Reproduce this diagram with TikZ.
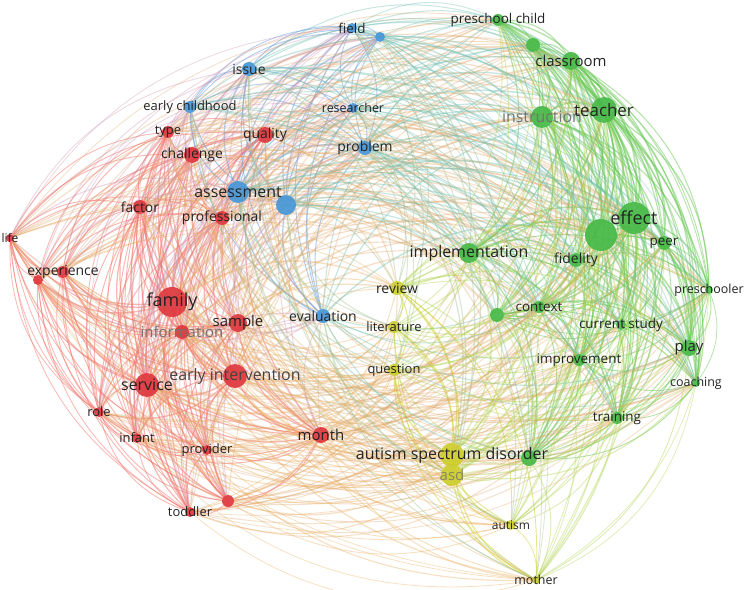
\documentclass[tikz,border=0pt]{standalone}
\usepackage{fontspec}
\setmainfont{Open Sans}
\pgfdeclarelayer{bg}
\pgfdeclarelayer{edges}
\pgfsetlayers{bg,edges,main}
\definecolor{nR}{RGB}{222,55,60}
\definecolor{nG}{RGB}{70,185,70}
\definecolor{nB}{RGB}{70,150,215}
\definecolor{nY}{RGB}{205,205,45}
\definecolor{eR}{RGB}{245,115,105}
\definecolor{eG}{RGB}{105,200,85}
\definecolor{eB}{RGB}{100,160,222}
\definecolor{eY}{RGB}{212,212,60}
\definecolor{eRG}{RGB}{225,165,100}
\definecolor{eRB}{RGB}{205,145,175}
\definecolor{eRY}{RGB}{235,170,85}
\definecolor{eBG}{RGB}{110,190,175}
\definecolor{eBY}{RGB}{160,190,140}
\definecolor{eGY}{RGB}{175,210,75}
\definecolor{txt}{RGB}{35,35,35}
\definecolor{dim}{RGB}{115,115,115}
\tikzset{
  edgeR/.style={eR,opacity=0.5},
  edgeG/.style={eG,opacity=0.5},
  edgeB/.style={eB,opacity=0.5},
  edgeY/.style={eY,opacity=0.55},
  edgeRG/.style={eRG,opacity=0.34},
  edgeRB/.style={eRB,opacity=0.36},
  edgeRY/.style={eRY,opacity=0.36},
  edgeBG/.style={eBG,opacity=0.38},
  edgeBY/.style={eBY,opacity=0.38},
  edgeGY/.style={eGY,opacity=0.4},
  dotnode/.style={circle,inner sep=0pt,outer sep=0pt,opacity=0.92},
  lbl/.style={inner sep=0pt,text=txt}
}
\def\Rlist{life/10/238/4, experience/63/272/6, expB/38/280/5, factor/140/207/7, type/168/132/6, challenge/192/155/8, quality/265/135/8, professional/222/218/7, family/172/302/15, information/182/332/7, sample/238/323/9, earlyint/235/376/12, service/147/385/12, role/99/412/5, infant/137/438/5, provider/207/450/5, toddler/190/512/5, toddlers/228/501/6, month/321/435/8}
\def\Blist{field/352/28/5, fieldB/380/37/5, issue/249/69/7, earlych/190/107/6, researcher/353/108/5, problem/365/148/7, assessment/238/192/11, blueB/286/205/10, evaluation/323/316/7}
\def\Ylist{review/397/288/7, literature/394/327/6, question/394/370/6, asdis/452/455/12, asd/452/475/11, autism/511/525/5, mother/536/580/4}
\def\Glist{preschoolchild/498/20/6, greenS/533/45/7, classroom/571/61/9, instruction/542/117/11, teacher/604/110/13, effect/634/218/16, greenB/601/235/16, peer/664/243/7, fidelity/576/260/7, implementation/469/253/10, preschooler/709/290/4, greenM/497/315/7, context/539/307/6, currentstudy/621/325/5, play/689/348/8, improvement/579/360/6, coaching/696/383/4, training/617/418/6, greenD/529/458/8}
% #1 list a, #2 list b, #3 style, #4 mode: 0 intra, 1 sampled inter
\newcommand\edgeset[4]{%
\foreach \a/\ax/\ay/\ar [count=\i] in #1 {%
  \foreach \b/\bx/\by/\br [count=\j] in #2 {%
    \pgfmathtruncatemacro\keep{#4==0 ? (\i<\j ? 1 : 0) : (mod(\i*7+\j*5,2)==0 ? 1 : 0)}%
    \ifnum\keep=1
      \pgfmathsetmacro\crs{((\ax-380)/100)*((\by-300)/100)-((\ay-300)/100)*((\bx-380)/100)}%
      \pgfmathsetmacro\lw{0.35+(\ar+\br)/20}%
      \ifdim\crs pt>0pt
        \draw[#3,line width=\lw bp] (\a) to[bend left=28] (\b);
      \else
        \draw[#3,line width=\lw bp] (\a) to[bend right=28] (\b);
      \fi
    \fi
  }%
}}
\newcommand\mknodes[2]{%
\foreach \n/\x/\y/\r in #1 {%
  \pgfmathsetmacro\dd{2*\r}%
  \node[dotnode,fill=#2,minimum size=\dd bp] (\n) at (\x,\y) {};
}}
\newcommand\lab[4]{\node[lbl,font=\fontsize{#2}{#2}\selectfont,text=#3] (#1-t) at (#1) {#4};}
\begin{document}
\begin{tikzpicture}[x=1bp,y=-1bp]
\begin{pgfonlayer}{bg}
\fill[white] (0,0) rectangle (748,590);
\end{pgfonlayer}
\useasboundingbox (0,0) rectangle (748,590);
\mknodes{\Rlist}{nR}
\mknodes{\Blist}{nB}
\mknodes{\Ylist}{nY}
\mknodes{\Glist}{nG}
\begin{pgfonlayer}{edges}
\edgeset{\Rlist}{\Rlist}{edgeR}{0}
\edgeset{\Glist}{\Glist}{edgeG}{0}
\edgeset{\Blist}{\Blist}{edgeB}{0}
\edgeset{\Ylist}{\Ylist}{edgeY}{0}
\edgeset{\Rlist}{\Blist}{edgeRB}{1}
\edgeset{\Rlist}{\Glist}{edgeRG}{1}
\edgeset{\Rlist}{\Ylist}{edgeRY}{1}
\edgeset{\Blist}{\Glist}{edgeBG}{1}
\edgeset{\Blist}{\Ylist}{edgeBY}{1}
\edgeset{\Glist}{\Ylist}{edgeGY}{1}
\end{pgfonlayer}
% labels
\lab{life}{12}{txt}{life}
\lab{experience}{14}{txt}{experience}
\lab{factor}{14}{txt}{factor}
\lab{type}{13}{txt}{type}
\lab{challenge}{14}{txt}{challenge}
\lab{quality}{14}{txt}{quality}
\lab{professional}{14}{txt}{professional}
\lab{family}{18}{txt}{family}
\lab{information}{15}{dim}{information}
\lab{sample}{15}{txt}{sample}
\lab{earlyint}{16}{txt!85}{early intervention}
\lab{service}{16}{txt}{service}
\lab{role}{13}{txt}{role}
\lab{infant}{13}{txt}{infant}
\lab{provider}{13}{txt}{provider}
\lab{toddler}{13}{txt}{toddler}
\lab{month}{15}{txt}{month}
\lab{field}{13.5}{txt}{field}
\lab{issue}{14}{txt}{issue}
\lab{earlych}{13}{txt}{early childhood}
\lab{researcher}{12.5}{txt}{researcher}
\lab{problem}{14}{txt}{problem}
\lab{assessment}{16}{txt}{assessment}
\lab{evaluation}{14}{txt}{evaluation}
\lab{review}{14}{txt}{review}
\lab{literature}{13}{txt}{literature}
\lab{question}{13}{txt}{question}
\lab{asdis}{16}{txt}{autism spectrum disorder}
\lab{asd}{15}{dim!80!nY}{asd}
\lab{autism}{12}{txt}{autism}
\lab{mother}{12.5}{txt}{mother}
\lab{preschoolchild}{13.5}{txt}{preschool child}
\lab{classroom}{15}{txt}{classroom}
\lab{instruction}{16}{dim}{instruction}
\lab{teacher}{17}{txt}{teacher}
\lab{effect}{18}{txt}{effect}
\lab{peer}{13.5}{txt}{peer}
\lab{fidelity}{14}{txt}{fidelity}
\lab{implementation}{16}{txt}{implementation}
\lab{preschooler}{12.5}{txt}{preschooler}
\lab{context}{13.5}{txt}{context}
\lab{currentstudy}{13.5}{txt}{current study}
\lab{play}{15}{txt}{play}
\lab{improvement}{13.5}{txt}{improvement}
\lab{coaching}{12.5}{txt}{coaching}
\lab{training}{13.5}{txt}{training}
\end{tikzpicture}
\end{document}
